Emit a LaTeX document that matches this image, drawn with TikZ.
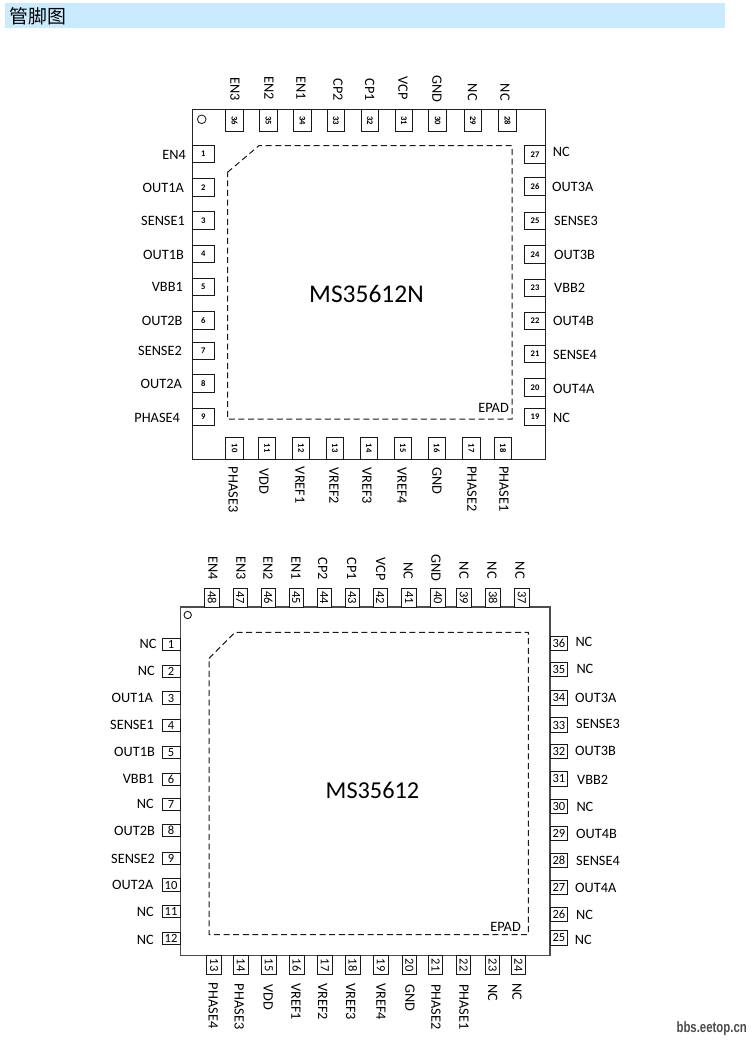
\documentclass[tikz,border=0pt]{standalone}
\usepackage{fontspec}
\setmainfont{Carlito}
\newfontfamily\cjk{Noto Sans CJK SC}
\newfontfamily\wm{Liberation Sans}
\tikzset{
  chip/.style={draw=black!85,line width=1.1pt,fill=white},
  chipb/.style={draw=black!70,line width=1.4pt,fill=white},
  epad/.style={draw=black!90,line width=1pt,dash pattern=on 6pt off 3.6pt},
  pinA/.style={draw=black!90,line width=1pt,fill=white,inner sep=0pt,minimum width=17.6pt,minimum height=17.6pt,font=\fontsize{8.6}{9}\selectfont\bfseries},
  pinAh/.style={pinA,minimum width=21.6pt},
  pinAv/.style={pinA,minimum width=22.3pt,rotate=-90},
  pinB/.style={draw=black!90,line width=1pt,fill=white,inner sep=0pt,font=\fontsize{12.5}{13}\selectfont},
  pinBl/.style={pinB,minimum width=18pt,minimum height=12.4pt},
  pinBr/.style={pinB,minimum width=17.7pt,minimum height=14.3pt},
  pinBv/.style={pinB,minimum width=18.6pt,minimum height=14.4pt,rotate=-90},
  lab/.style={inner sep=0pt,text=black,font=\fontsize{14.3}{16}\selectfont},
  labL/.style={lab,anchor=east},
  labR/.style={lab,anchor=west},
  labT/.style={lab,anchor=east,rotate=-90},
  labB/.style={lab,anchor=west,rotate=-90},
  part/.style={inner sep=0pt,font=\fontsize{25.5}{28}\selectfont},
}
\begin{document}
\begin{tikzpicture}[x=1pt,y=-1pt]
\useasboundingbox (0,0) rectangle (752,1040);
% heading
\fill[fill={rgb,255:red,202;green,234;blue,254}] (5,3) rectangle (725,28);
\node[anchor=west,inner sep=0pt,font=\cjk\fontsize{18.9}{20}\selectfont] (title) at (9,16) {管脚图};
% ---------- first package
\draw[chip] (192.5,109.7) rectangle (545.7,459.5);
\draw[black!85,line width=.9pt] (201.7,119.3) circle (4.3);
\draw[epad] (227.5,172.3) -- (259,145.6) -- (512,145.6) -- (512,419) -- (227.5,419) -- cycle;
\node[part] (partA) at (366.5,293.5) {MS35612N};
\node[lab,anchor=east] (epadA) at (509,408.3) {EPAD};
\foreach \n/\a/\b in {36/225.7/243.3,35/259.7/277.3,34/293.7/311,33/327.3/344.7,32/361.3/378.7,31/395/412.7,30/429/446.3,29/464.3/481.7,28/499/516.3}
  \node[pinAv] (a\n) at ({(\a+\b)/2},120.8) {\n};
\foreach \n/\a/\b in {10/226/243.3,11/258.3/276,12/292.3/310,13/326/343.7,14/360/377.7,15/394/411.7,16/428/445.7,17/462.7/480.3,18/494.3/512}
  \node[pinAv] (a\n) at ({(\a+\b)/2},448.3) {\n};
\foreach \n/\a/\b in {1/145.3/163,2/178.3/196.3,3/211.7/229.7,4/245/263,5/278/296,6/311.7/329.3,7/342.3/360,8/374.7/392.3,9/408.3/426}
  \node[pinAh] (a\n) at (203.4,{(\a+\b)/2}) {\n};
\foreach \n/\a/\b in {27/146/163.3,26/177.7/195.3,25/212.3/230,24/245.7/263.3,23/279/296.7,22/312.3/330,21/345.3/363,20/378.7/396.3,19/408.3/426}
  \node[pinAh] (a\n) at (535,{(\a+\b)/2}) {\n};
\foreach \t/\x/\y in {EN4/186/154.5,OUT1A/184/187.5,SENSE1/185/221,OUT1B/184/254.5,VBB1/183/287,OUT2B/182.7/320.5,SENSE2/182/351,OUT2A/182/384.3,PHASE4/180/418}
  \node[labL] (lal\t) at (\x,\y) {\t};
\foreach \i/\t/\x/\y in {27/NC/552.7/152.3,26/OUT3A/552/186.7,25/SENSE3/554/221.3,24/OUT3B/554/255,23/VBB2/554/288,22/OUT4B/553/321,21/SENSE4/553/354.5,20/OUT4A/553/389,19/NC/553/418}
  \node[labR] (lar\i) at (\x,\y) {\t};
\foreach \i/\t/\x/\y in {36/EN3/235/101,35/EN2/269/100,34/EN1/301/100,33/CP2/338/101,32/CP1/369.7/101,31/VCP/403/100,30/GND/437/102.7,29/NC/472.5/101,28/NC/505/101}
  \node[labT] (lat\i) at (\x,\y) {\t};
\foreach \i/\t/\x/\y in {10/PHASE3/233.3/466.7,11/VDD/264/468,12/VREF1/300/466.7,13/VREF2/334/467,14/VREF3/367/467,15/VREF4/402/467,16/GND/437/467,17/PHASE2/472/466,18/PHASE1/504/466}
  \node[labB] (lab\i) at (\x,\y) {\t};
% ---------- second package
\draw[chipb] (180.3,607) rectangle (550,955.7);
\draw[black!90,line width=.9pt] (187.7,615) circle (3.7);
\draw[epad] (209,658.3) -- (235,632.3) -- (528.3,632.3) -- (528.3,934.7) -- (209,934.7) -- cycle;
\node[part,font=\fontsize{24.3}{28}\selectfont] (partB) at (372.5,790) {MS35612};
\node[lab,anchor=east] (epadB) at (521,926.7) {EPAD};
\foreach \n/\a/\b in {48/204.7/219.3,47/232.7/247.7,46/260.7/275.7,45/288.7/303.7,44/316.7/331.7,43/344.7/359.7,42/372.7/387.7,41/402/416.3,40/430.7/445,39/456.7/471,38/486/500.3,37/514.7/529}
  \node[pinBv] (b\n) at ({(\a+\b)/2},597.7) {\n};
\foreach \n/\a/\b in {13/207/221.3,14/233.7/248,15/261.7/276,16/289.7/304,17/317.7/332,18/345.7/360,19/373.7/388,20/402.3/416.7,21/428.3/443,22/456.3/471,23/485.3/500,24/511.3/525.7}
  \node[pinBv] (b\n) at ({(\a+\b)/2},965) {\n};
\foreach \n/\a/\b in {1/638.7/650.8,2/665.3/677.3,3/692/704.3,4/719.3/731.7,5/746.3/758.7,6/773.3/785.3,7/798.3/810.7,8/824.3/836.7,9/852.3/864.3,10/879/891.3,11/905/918.3,12/932/945.3}
  \node[pinBl] (b\n) at (171,{(\a+\b)/2}) {\n};
\foreach \n/\a/\b in {36/636.3/650.7,35/662.7/676.7,34/690.7/705,33/717.7/732.3,32/744/758.3,31/771.7/786,30/799/813.3,29/826/840.3,28/853/867.3,27/880/894.3,26/907/921.3,25/930.7/945}
  \node[pinBr] (b\n) at (558.9,{(\a+\b)/2}) {\n};
\foreach \i/\t/\x/\y in {1/NC/156.7/644,2/NC/155/671,3/OUT1A/153/698,4/SENSE1/154/725,5/OUT1B/155/752,6/VBB1/154/779,7/NC/154/804,8/OUT2B/155/831,9/SENSE2/155/858.5,10/OUT2A/153.5/885,11/NC/154/911.5,12/NC/154/939.5}
  \node[labL] (lbl\i) at (\x,\y) {\t};
\foreach \i/\t/\x/\y in {36/NC/575.3/641.5,35/NC/576.3/669,34/OUT3A/575/698,33/SENSE3/576/724,32/OUT3B/575/751,31/VBB2/577/779.5,30/NC/576.3/806.7,29/OUT4B/576/834,28/SENSE4/576/861,27/OUT4A/575/888,26/NC/576/915,25/NC/574.7/939.5}
  \node[labR] (lbr\i) at (\x,\y) {\t};
\foreach \i/\t/\x/\y in {48/EN4/213/580,47/EN3/241/580,46/EN2/268/580,45/EN1/296/580,44/CP2/322.7/580,43/CP1/351.7/580,42/VCP/380.7/580.7,41/NC/408.3/579.3,40/GND/436/581.7,39/NC/464/579,38/NC/492/579,37/NC/520/579}
  \node[labT] (lbt\i) at (\x,\y) {\t};
\foreach \i/\t/\x/\y in {13/PHASE4/213.3/982.7,14/PHASE3/239.3/983.7,15/VDD/268.3/984,16/VREF1/296/983,17/VREF2/322.7/983,18/VREF3/350.7/983,19/VREF4/381/983,20/GND/410/984,21/PHASE2/436/984,22/PHASE1/464/984,23/NC/492.7/984,24/NC/517/983}
  \node[labB] (lbb\i) at (\x,\y) {\t};
% watermark
\node[anchor=east,inner sep=0pt,text=black!70,xscale=.76,font=\wm\bfseries\fontsize{15}{16}\selectfont] (mark) at (747,1029) {bbs.eetop.cn};
\end{tikzpicture}
\end{document}
